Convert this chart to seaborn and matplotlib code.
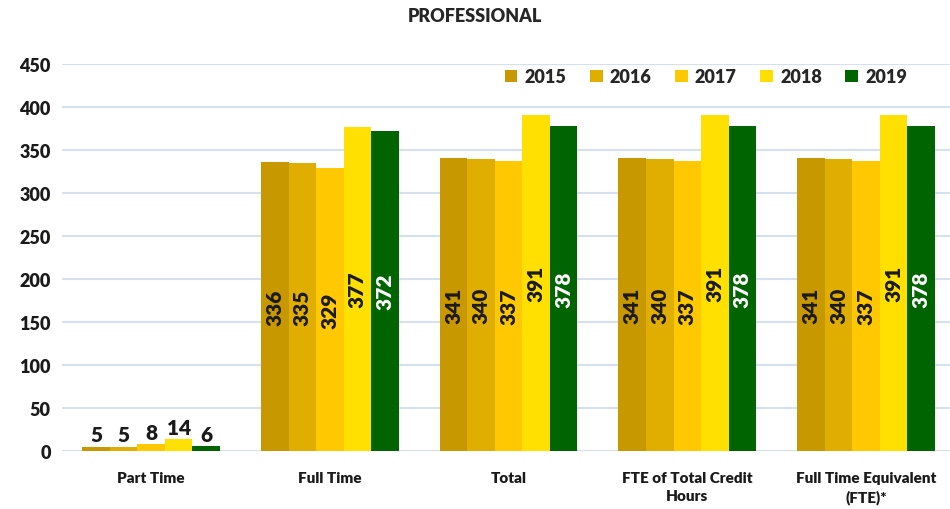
import matplotlib
matplotlib.use("Agg")
import matplotlib.pyplot as plt
import seaborn as sns
import pandas as pd

# data
categories = ["Part Time", "Full Time", "Total", "FTE of Total Credit\nHours", "Full Time Equivalent\n(FTE)*"]
years = ["2015", "2016", "2017", "2018", "2019"]
values = {
    "2015": [5, 336, 341, 341, 341],
    "2016": [5, 335, 340, 340, 340],
    "2017": [8, 329, 337, 337, 337],
    "2018": [14, 377, 391, 391, 391],
    "2019": [6, 372, 378, 378, 378],
}
colors = ["#C89800", "#E0AE00", "#FFC800", "#FFE000", "#006400"]

rows = []
for y in years:
    for c, v in zip(categories, values[y]):
        rows.append({"category": c, "year": y, "value": v})
df = pd.DataFrame(rows)

sns.set_style("white")
plt.rcParams["font.family"] = ["Lato", "DejaVu Sans"]
W = "heavy"

fig = plt.figure(figsize=(9.5, 5.1), dpi=100)
ax = fig.add_axes([0.065, 0.113, 0.935, 0.76])

sns.barplot(data=df, x="category", y="value", hue="year", palette=colors,
            width=0.77, saturation=1, ax=ax, legend=True, linewidth=0, edgecolor="none")

ax.set_ylim(0, 450)
ax.set_xlim(-0.5, 4.47)
ax.set_yticks(range(0, 451, 50))
ax.yaxis.grid(True, color="#D6E0EE", linewidth=1.5)
ax.set_axisbelow(True)
for s in ax.spines.values():
    s.set_visible(False)
ax.set_xlabel("")
ax.set_ylabel("")
ax.tick_params(axis="y", length=0, pad=8)
ax.tick_params(axis="x", length=0, pad=14)
plt.setp(ax.get_yticklabels(), fontsize=13, fontweight=W, color="#1a1a1a")
plt.setp(ax.get_xticklabels(), fontsize=11, fontweight=W, color="#1a1a1a", linespacing=1.45)

# value labels
for yi, cont in enumerate(ax.containers):
    for ci, bar in enumerate(cont):
        v = values[years[yi]][ci]
        xc = bar.get_x() + bar.get_width() / 2
        col = "white" if years[yi] == "2019" else "#1a1a1a"
        if ci == 0:
            ax.text(xc, v + 3, str(v), ha="center", va="bottom",
                    fontsize=15, fontweight=W, color="#1a1a1a")
        else:
            ax.text(xc, v / 2, str(v), ha="center", va="center", rotation=90,
                    fontsize=15, fontweight=W, color=col)

leg = ax.legend(loc="upper right", ncol=5, frameon=False, bbox_to_anchor=(0.97, 1.03),
                prop={"weight": W, "size": 13}, handlelength=0.7, handleheight=0.7,
                columnspacing=1.3, handletextpad=0.4)

fig.suptitle("PROFESSIONAL", fontsize=13, fontweight=W, y=0.985, x=0.5)

fig.savefig("out.png", dpi=100)
